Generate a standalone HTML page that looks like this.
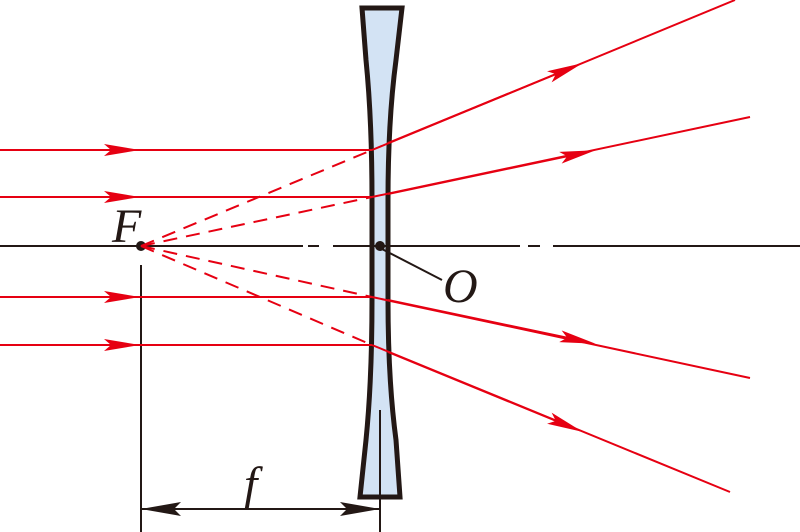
<!DOCTYPE html>
<html><head><style>body{margin:0;background:#fff}svg{display:block}</style></head><body>
<svg width="800" height="532" viewBox="0 0 800 532" xmlns="http://www.w3.org/2000/svg">
<defs>
<marker id="a" viewBox="0 0 36 12" refX="18" refY="6" markerWidth="36" markerHeight="12" markerUnits="userSpaceOnUse" orient="auto"><path d="M0,0 L36,6 L0,12 L7,6z" fill="#e60012"/></marker>
<marker id="k" viewBox="0 0 40 14" refX="40" refY="7" markerWidth="40" markerHeight="14" markerUnits="userSpaceOnUse" orient="auto"><path d="M0,0 L40,7 L0,14 L7,7z" fill="#231815"/></marker>
</defs>
<path d="M362,8 L402,8 L396,60 Q388,120 388,200 L388,300 Q388,380 396,440 L400,497 L360,497 L366,440 Q372,380 372,300 L372,200 Q372,120 366,60 Z" fill="#d3e3f4" stroke="#231815" stroke-width="5" stroke-linejoin="miter"/>
<g stroke="#231815" stroke-width="2">
<line x1="0" y1="246" x2="303" y2="246"/><line x1="308" y1="246" x2="319" y2="246"/><line x1="333" y1="246" x2="520" y2="246"/><line x1="528" y1="246" x2="540" y2="246"/><line x1="553" y1="246" x2="800" y2="246"/>
<line x1="141" y1="265" x2="141" y2="532"/>
<line x1="380" y1="410" x2="380" y2="532"/>
<line x1="380" y1="248" x2="442" y2="280"/>
<line x1="160" y1="509" x2="360" y2="509"/>
</g>
<line x1="260" y1="509" x2="141" y2="509" stroke="#231815" stroke-width="2" marker-end="url(#k)"/>
<line x1="260" y1="509" x2="380" y2="509" stroke="#231815" stroke-width="2" marker-end="url(#k)"/>
<circle cx="141" cy="246" r="5" fill="#231815"/>
<circle cx="380" cy="246" r="5" fill="#231815"/>
<g stroke="#e60012" stroke-width="2" fill="none">
<path d="M0,150 L372,150" /><path d="M0,197 L372,197"/><path d="M0,297 L372,297"/><path d="M0,345 L372,345"/>
<line x1="0" y1="150" x2="122" y2="150" marker-end="url(#a)"/>
<line x1="0" y1="197" x2="122" y2="197" marker-end="url(#a)"/>
<line x1="0" y1="297" x2="122" y2="297" marker-end="url(#a)"/>
<line x1="0" y1="345" x2="122" y2="345" marker-end="url(#a)"/>
<path d="M372,150 L735,0"/><path d="M372,197 L750,117"/><path d="M372,297 L750,378"/><path d="M372,345 L730,492"/>
<line x1="388" y1="143" x2="566" y2="70" marker-end="url(#a)"/>
<line x1="388" y1="194" x2="578" y2="154" marker-end="url(#a)"/>
<line x1="388" y1="300" x2="578" y2="340" marker-end="url(#a)"/>
<line x1="388" y1="352" x2="566" y2="425" marker-end="url(#a)"/>
<g stroke-dasharray="14,9">
<line x1="141" y1="246" x2="372" y2="150"/><line x1="141" y1="246" x2="372" y2="197"/>
<line x1="141" y1="246" x2="372" y2="297"/><line x1="141" y1="246" x2="372" y2="345"/>
</g>
</g>
<g font-family="Liberation Serif, serif" font-style="italic" fill="#231815" font-size="48">
<text x="112" y="242">F</text>
<text x="443" y="302">O</text>
<text x="244" y="500">f</text>
</g>
</svg>
</body></html>
